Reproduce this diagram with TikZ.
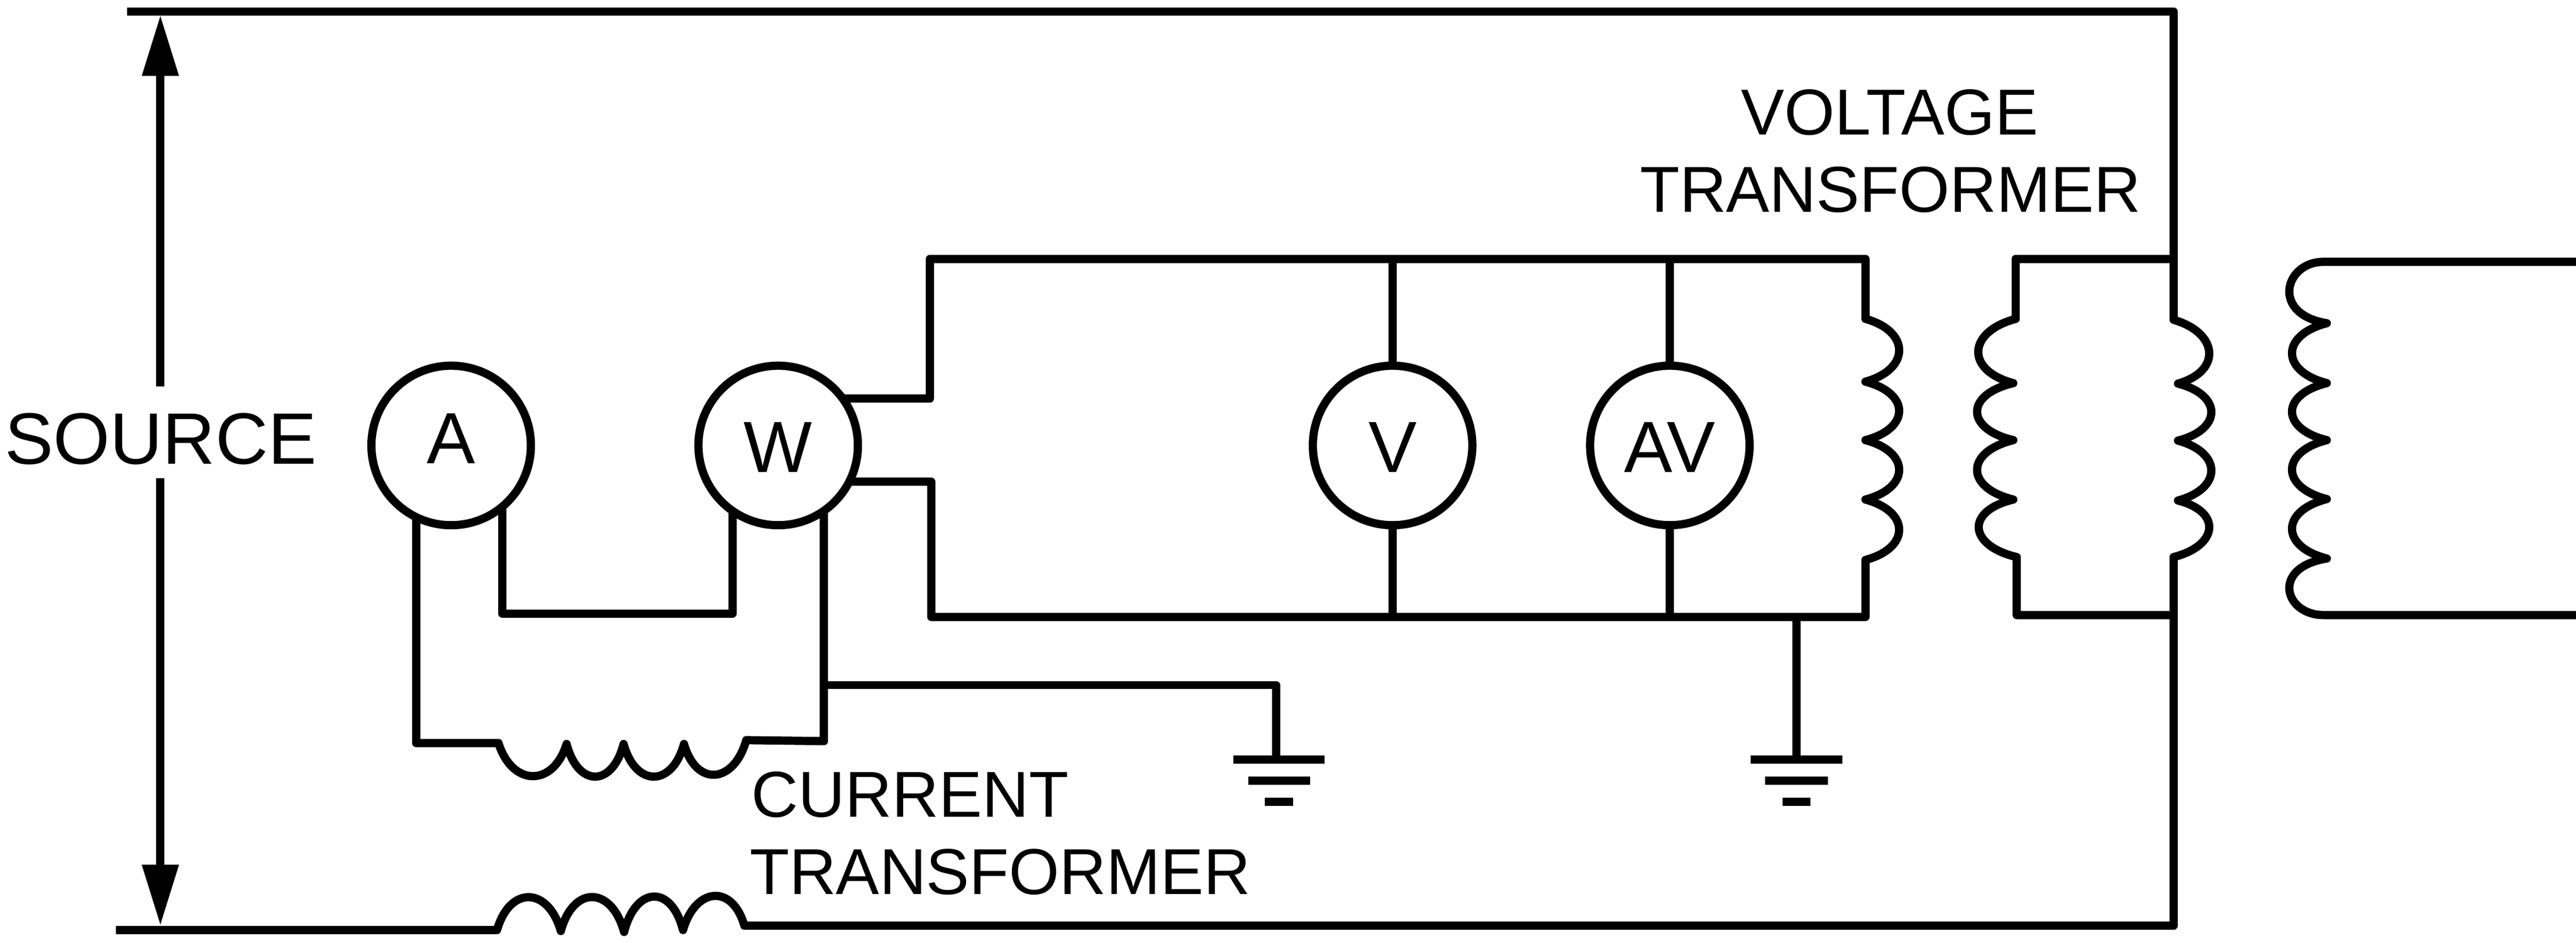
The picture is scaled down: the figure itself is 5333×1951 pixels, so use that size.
\documentclass[tikz,border=0pt]{standalone}
\usepackage{fontspec}
\setmainfont{Liberation Sans}
\usetikzlibrary{arrows.meta,calc}
\newcommand\vb[5]{.. controls ({#1+#5},{#2+0.2*(#4-#2)}) and ({#3+#5},{#4-0.2*(#4-#2)}) .. (#3,#4)}
\newcommand\hb[5]{.. controls ({#1+0.2*(#3-#1)},{#2+#5}) and ({#3-0.2*(#3-#1)},{#4+#5}) .. (#3,#4)}
\tikzset{
  wire/.style={line width=0.17cm,line join=round,line cap=butt},
  meter/.style={circle,draw,line width=0.17cm,minimum size=3.30cm,inner sep=0pt,outer sep=0pt,
     font=\fontsize{42.7pt}{46pt}\selectfont,text height=1.11cm,text depth=0cm},
  lbl/.style={inner sep=0pt,outer sep=0pt,anchor=base west,font=\fontsize{38.2pt}{42pt}\selectfont},
  dim/.style={line width=0.17cm,-{Triangle[length=1.26cm,width=0.72cm]}},
  gbar/.style={line width=0.17cm}
}
\begin{document}
\begin{tikzpicture}[x=0.01cm,y=-0.01cm]
\useasboundingbox (0,0) rectangle (5333,1951);
% meters
\node[meter,text height=0.75cm] (mA) at (934,922) {A};
\node[meter] (mW) at (1611,922) {W};
\node[meter] (mV) at (2883,922) {V};
\node[meter] (mAV) at (3457,922) {AV};
% free wire ends
\coordinate (topL) at (263,24);
\coordinate (topR) at (4500,24);
\coordinate (botL) at (240,1925);
\coordinate (busTL) at (1925,536);
\coordinate (busTR) at (3862,536);
\coordinate (busBL) at (1928,1277);
\coordinate (busBR) at (3862,1277);
\coordinate (gA) at (2642,1572);
\coordinate (gB) at (3719,1572);
% main loop with primary of CT and primary of VT
\draw[wire] (botL) -- (1029,1925)
  \hb{1029}{1925}{1161}{1927}{-92}
  \hb{1161}{1927}{1292}{1929}{-95}
  \hb{1292}{1929}{1414}{1925}{-95}
  \hb{1414}{1925}{1541}{1916}{-88}
  -- (4500,1916) -- (4500,1153)
  \vb{4500}{1153}{4509}{1036}{92}
  \vb{4509}{1036}{4509}{912}{92}
  \vb{4509}{912}{4509}{794}{92}
  \vb{4509}{794}{4500}{662}{92}
  -- (topR) -- (topL);
% source arrows
\coordinate (aT) at (332,31);
\coordinate (aB) at (332,1916);
\draw[dim] (332,800) -- (aT);
\draw[dim] (332,990) -- (aB);
% middle VT winding
\draw[wire] (topR |- busTR) -- (4173,536) -- (4173,660)
  \vb{4173}{660}{4168}{793}{-100}
  \vb{4168}{793}{4168}{911}{-100}
  \vb{4168}{911}{4168}{1034}{-100}
  \vb{4168}{1034}{4175}{1153}{-100}
  -- (4175,1273) -- (4500,1273);
% secondary winding
\draw[wire] (5333,542) -- (4810,542)
  .. controls (4730,542) and (4700,650) .. (4817,669)
  \vb{4817}{669}{4817}{793}{-96}
  \vb{4817}{793}{4817}{911}{-96}
  \vb{4817}{911}{4817}{1033}{-96}
  \vb{4817}{1033}{4817}{1156}{-96}
  .. controls (4700,1175) and (4730,1273) .. (4810,1273)
  -- (5333,1273);
% burden winding and buses
\draw[wire] (mW.36.87) -- (mW.36.87 -| busTL) -- (busTL) -- (busTR) -- (3862,660)
  \vb{3862}{660}{3862}{790}{93}
  \vb{3862}{790}{3862}{911}{93}
  \vb{3862}{911}{3862}{1034}{93}
  \vb{3862}{1034}{3862}{1159}{93}
  -- (busBR) -- (busBL) -- (busBL |- mW.333.74) -- (mW.333.74);
\draw[wire] (mV.north) -- (mV.north |- busTL);
\draw[wire] (mV.south) -- (mV.south |- busBL);
\draw[wire] (mAV.north) -- (mAV.north |- busTL);
\draw[wire] (mAV.south) -- (mAV.south |- busBL);
% ammeter / wattmeter current circuit
\draw[wire] (mA.310.4) -- (mA.310.4 |- 0,1270) -- (mW.235.7 |- 0,1270) -- (mW.235.7);
\draw[wire] (mA.244.5) -- (mA.244.5 |- 0,1538) -- (1032,1538)
  \hb{1032}{1538}{1173}{1540}{90}
  \hb{1173}{1540}{1291}{1540}{90}
  \hb{1291}{1540}{1416}{1540}{90}
  \hb{1416}{1540}{1545}{1532}{90}
  -- (mW.305.1 |- 0,1534) -- (mW.305.1);
% grounds
\draw[wire] (mW.305.1 |- 0,1418) -- (gA |- 0,1418) -- (gA);
\draw[wire] (gB |- busBR) -- (gB);
\draw[gbar] (2553,1572) -- (2742,1572);
\draw[gbar] (2584,1616) -- (2712,1616);
\draw[gbar] (2619,1660) -- (2677,1660);
\draw[gbar] (3624,1572) -- (3814,1572);
\draw[gbar] (3654,1616) -- (3784,1616);
\draw[gbar] (3690,1660) -- (3748,1660);
% labels
\node[lbl] (tS) at (10,960) {\fontsize{42.9pt}{46pt}\selectfont SOURCE};
\node[lbl] (tV1) at (3605,279) {VOLTAGE};
\node[lbl] (tV2) at (3395,439) {TRANSFORMER};
\node[lbl] (tC1) at (1556,1691) {CURRENT};
\node[lbl] (tC2) at (1552,1851) {TRANSFORMER};
\end{tikzpicture}
\end{document}
